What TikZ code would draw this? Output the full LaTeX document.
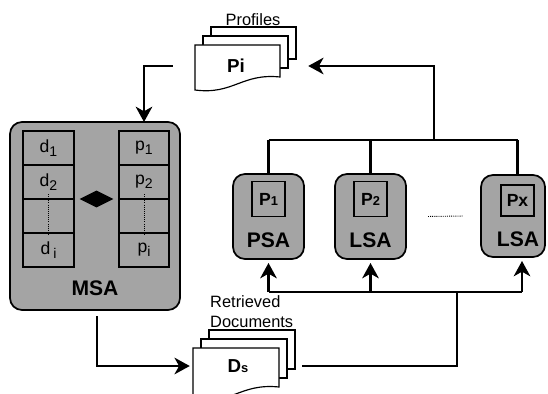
\documentclass[tikz,border=0pt]{standalone}
\usepackage{fontspec}
\setmainfont{Liberation Sans}
\usetikzlibrary{arrows.meta,calc,positioning,fit,shapes.geometric}

\definecolor{agentgray}{RGB}{164,164,164}
\newcommand{\lowsub}[1]{\raisebox{-0.45ex}{\fontsize{12}{12}\selectfont #1}}
\newcommand{\smallsub}[1]{{\fontsize{11}{11}\selectfont #1}}

% stack of three pages, the front one with a wavy bottom edge
% #1,#2 = top left of the front page, #3 = width, #4 = height of its right edge
\newcommand{\pagestack}[4]{%
  \foreach \k in {2,1}
    \draw[page] ({#1+8*\k},{#2-9*\k}) rectangle ++(#3,#4);
  \draw[page] (#1,#2) -- ++(#3,0) -- ++(0,#4)
    .. controls ++({-0.45*#3},-4) and ({#1+0.45*#3},{#2+#4+18}) .. (#1,{#2+#4+13}) -- cycle;
}

\begin{document}
\begin{tikzpicture}[x=0.3mm, y=-0.3mm,
  wire/.style={line width=1.8pt},
  flow/.style={wire, -{Stealth[length=4.6mm, width=5mm, inset=1.4mm]}},
  page/.style={draw, line width=1pt, fill=white},
  agent/.style={draw, line width=1.5pt, fill=agentgray, rounded corners=3.6mm, inner sep=0pt, outer sep=0pt},
  cell/.style={draw, line width=1.5pt, fill=agentgray, inner sep=0pt, outer sep=0pt, minimum height=10.2mm, font=\fontsize{15}{15}\selectfont},
  pbox/.style={draw, line width=1.2pt, inner sep=0pt, minimum width=9.9mm, minimum height=10.5mm, font=\bfseries\fontsize{15}{15}\selectfont},
  agentname/.style={font=\bfseries\fontsize{18}{18}\selectfont},
  doclabel/.style={font=\bfseries\fontsize{16}{16}\selectfont},
  caption/.style={font=\fontsize{14}{17}\selectfont, inner sep=0pt}
]
\useasboundingbox (0,0) rectangle (548,394);

% master agent: documents next to profiles
\node[agent, minimum width=51mm, minimum height=56.4mm] (msa) at (95,216) {};
\node[cell, minimum width=15.3mm] (d1) at (48.5,148) {d\lowsub{1}};
\node[cell, minimum width=15.3mm, below=0pt of d1] (d2) {d\lowsub{2}};
\node[cell, minimum width=15.3mm, below=0pt of d2] (d3) {};
\node[cell, minimum width=15.3mm, below=0pt of d3] (di) {d\,\lowsub{i}};
\node[cell, minimum width=15mm] (p1) at (144,148) {p\lowsub{1}};
\node[cell, minimum width=15mm, below=0pt of p1] (p2) {p\lowsub{2}};
\node[cell, minimum width=15mm, below=0pt of p2] (p3) {};
\node[cell, minimum width=15mm, below=0pt of p3] (pi cell) {p\lowsub{i}};
\draw[densely dotted, line width=0.8pt] ($(d2.south)+(0,-5)$) -- ($(di.north)+(0,3)$);
\draw[densely dotted, line width=0.8pt] ($(p2.south)+(0,-5)$) -- ($(pi cell.north)+(0,3)$);
\node[diamond, fill=black, inner sep=0pt, minimum width=10.2mm, minimum height=5.1mm] (link)
  at ($(d2.south east)!0.5!(p2.south west)$) {};
\node[agentname] at ($(msa.south)+(0,-22)$) {MSA};

% search agents
\node[agent, minimum width=21.3mm, minimum height=25.5mm] (psa) at (268.5,216.5) {};
\node[agent, minimum width=21.3mm, minimum height=25.5mm] (lsa2) at (370.5,216.5) {};
\node[agent, minimum width=19.2mm, minimum height=24.6mm] (lsa3) at (513,216) {};
\node[pbox, below=2.1mm of psa.north] (p1box) {P\smallsub{1}};
\node[pbox, below=2.1mm of lsa2.north] (p2box) {P\smallsub{2}};
\node[pbox, minimum height=9.3mm] (pxbox) at (517.5,200.5) {Px};
\node[agentname] at ($(psa.south)+(0,-19)$) {PSA};
\node[agentname] at ($(lsa2.south)+(0,-19)$) {LSA};
\node[agentname] at ($(lsa3.south)+(5,-18)$) {LSA};
\draw[densely dotted, line width=0.8pt] ($(lsa2.east)+(22,0)$) -- ($(lsa3.west)+(-18,0)$);

% profiles and retrieved documents
\pagestack{195}{45}{85}{32}
\node[fit={(195,27)(296,90)}, inner sep=0pt] (profiles) {};
\node[doclabel] (pi) at (236,66) {Pi};
\node[caption] at (253,20) {Profiles};

\pagestack{193}{348}{86}{39}
\node[fit={(193,330)(295,400)}, inner sep=0pt] (docs) {};
\node[doclabel] (ds) at (238,366) {D\smallsub{s}};
\node[caption, align=left, anchor=west] at (210,312) {Retrieved\\Documents};

% connectors
\coordinate (prof out) at ($(profiles.west |- pi)+(-22,0)$);
\draw[flow] (prof out) -| (msa.north -| p1.north);
\draw[flow, shorten >=0.9mm] ($(msa.south)+(2,6)$) |- (docs.west |- ds);

\coordinate (ds out) at ($(docs.east |- ds)+(7,0)$);
\coordinate (low bus) at (457,292);
\coordinate (up3) at ($(lsa3.south)+(9,0)$);
\draw[wire] (ds out) -| (low bus);
\draw[wire] (psa.south |- low bus) -- (up3 |- low bus);
\draw[flow, shorten >=1.2mm] (psa.south |- low bus) -- (psa.south);
\draw[flow, shorten >=1.2mm] (lsa2.south |- low bus) -- (lsa2.south);
\draw[flow, shorten >=1.2mm] (up3 |- low bus) -- (up3);

\coordinate (top bus) at (434,140);
\draw[wire] (psa.north |- top bus) -- (pxbox.north |- top bus);
\draw[wire] (psa.north) -- (psa.north |- top bus);
\draw[wire] (lsa2.north) -- (lsa2.north |- top bus);
\draw[wire] (lsa3.north -| pxbox.north) -- (pxbox.north |- top bus);
\draw[flow] (top bus) |- ($(profiles.east |- pi)+(12,0)$);
\end{tikzpicture}
\end{document}
